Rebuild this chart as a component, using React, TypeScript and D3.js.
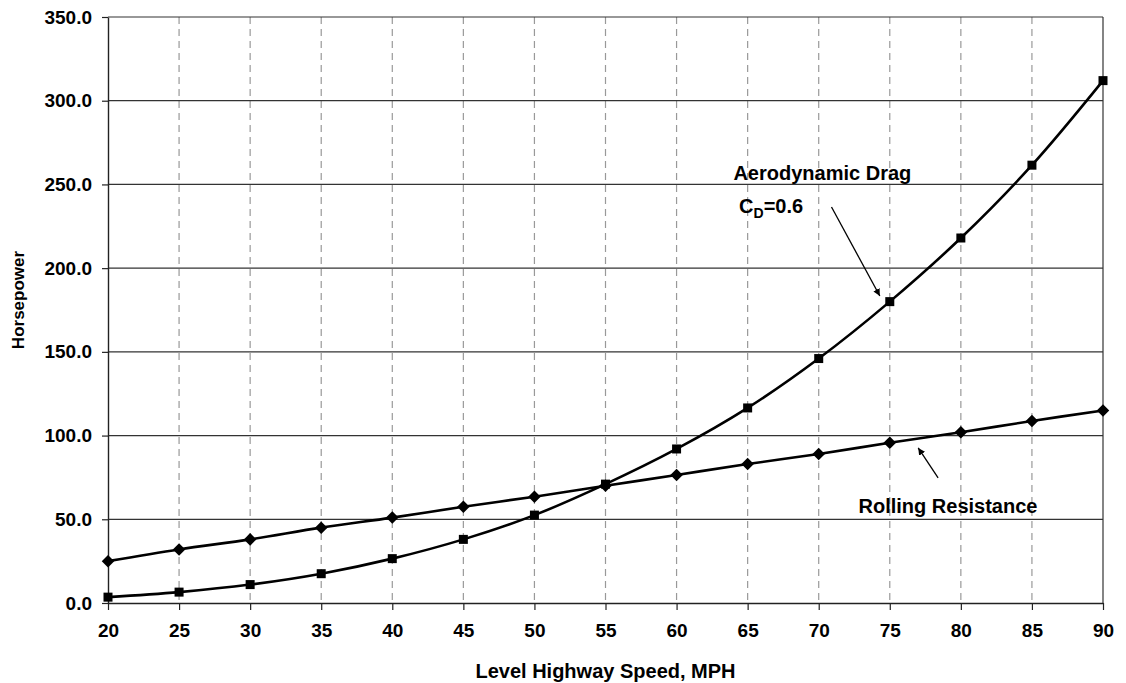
import { useEffect, useRef } from 'react';
import * as d3 from 'd3';

const speeds = [20, 25, 30, 35, 40, 45, 50, 55, 60, 65, 70, 75, 80, 85, 90];
const aeroDrag = [3.5, 6.5, 11, 17.5, 26.5, 38, 52.5, 71, 92, 116.5, 146, 180, 218, 261.5, 312];
const rolling = [25, 32, 38, 45, 51, 57.5, 63.5, 70, 76.5, 83, 89, 95.7, 102, 108.7, 115];
const yTicks = [0, 50, 100, 150, 200, 250, 300, 350];

const WIDTH = 1126;
const HEIGHT = 683;
const margin = { top: 17, right: 23, bottom: 80, left: 108 };
const FONT = 'Liberation Sans, Arial, sans-serif';

export default function App() {
  const svgRef = useRef<SVGSVGElement>(null);

  useEffect(() => {
    if (!svgRef.current) return;
    const svg = d3.select(svgRef.current);
    svg.selectAll('*').remove();

    const innerW = WIDTH - margin.left - margin.right;
    const innerH = HEIGHT - margin.top - margin.bottom;

    const x = d3.scaleLinear().domain([20, 90]).range([margin.left, margin.left + innerW]);
    const y = d3.scaleLinear().domain([0, 350]).range([margin.top + innerH, margin.top]);

    svg
      .append('defs')
      .append('marker')
      .attr('id', 'arrow')
      .attr('viewBox', '0 0 10 10')
      .attr('refX', 10)
      .attr('refY', 5)
      .attr('markerWidth', 7)
      .attr('markerHeight', 7)
      .attr('markerUnits', 'userSpaceOnUse')
      .attr('orient', 'auto')
      .append('path')
      .attr('d', 'M0,0 L10,5 L0,10 z')
      .attr('fill', '#000');

    // vertical dashed grid
    svg
      .append('g')
      .selectAll('line')
      .data(speeds.slice(1, -1))
      .join('line')
      .attr('x1', (d) => x(d))
      .attr('x2', (d) => x(d))
      .attr('y1', y(350))
      .attr('y2', y(0))
      .attr('stroke', '#999')
      .attr('stroke-width', 1.2)
      .attr('stroke-dasharray', '7,5');

    // horizontal grid
    svg
      .append('g')
      .selectAll('line')
      .data(yTicks.slice(1))
      .join('line')
      .attr('x1', x(20))
      .attr('x2', x(90))
      .attr('y1', (d) => y(d))
      .attr('y2', (d) => y(d))
      .attr('stroke', '#333')
      .attr('stroke-width', 1.2);

    // right border
    svg
      .append('line')
      .attr('x1', x(90))
      .attr('x2', x(90))
      .attr('y1', y(350))
      .attr('y2', y(0))
      .attr('stroke', '#333')
      .attr('stroke-width', 1.2);

    const yAxis = d3
      .axisLeft(y)
      .tickValues(yTicks)
      .tickFormat((d) => (d as number).toFixed(1))
      .tickSizeInner(6)
      .tickSizeOuter(0)
      .tickPadding(10);
    const xAxis = d3
      .axisBottom(x)
      .tickValues(speeds)
      .tickFormat(d3.format('d'))
      .tickSizeInner(7)
      .tickSizeOuter(0)
      .tickPadding(14);

    const gy = svg.append('g').attr('transform', `translate(${margin.left},0)`).call(yAxis);
    const gx = svg.append('g').attr('transform', `translate(0,${y(0)})`).call(xAxis);
    [gx, gy].forEach((g) => {
      g.select('.domain').attr('stroke', '#222').attr('stroke-width', 1.4);
      g.selectAll('.tick line').attr('stroke', '#222').attr('stroke-width', 1.2);
      g.selectAll('.tick text')
        .attr('font-family', FONT)
        .attr('font-weight', 'bold')
        .attr('font-size', 19)
        .attr('fill', '#000');
    });

    const line = d3
      .line<number>()
      .x((_, i) => x(speeds[i]))
      .y((d) => y(d))
      .curve(d3.curveCatmullRom.alpha(0.5));

    svg
      .append('path')
      .attr('d', line(rolling))
      .attr('fill', 'none')
      .attr('stroke', '#000')
      .attr('stroke-width', 2.6);
    svg
      .append('path')
      .attr('d', line(aeroDrag))
      .attr('fill', 'none')
      .attr('stroke', '#000')
      .attr('stroke-width', 2.6);

    // diamonds for rolling resistance
    const diamond = d3.symbol().type(d3.symbolDiamond2).size(100);
    svg
      .append('g')
      .selectAll('path')
      .data(rolling)
      .join('path')
      .attr('d', diamond)
      .attr('transform', (d, i) => `translate(${x(speeds[i])},${y(d)})`)
      .attr('fill', '#000');

    // squares for aerodynamic drag
    svg
      .append('g')
      .selectAll('rect')
      .data(aeroDrag)
      .join('rect')
      .attr('x', (_, i) => x(speeds[i]) - 4.5)
      .attr('y', (d) => y(d) - 4.5)
      .attr('width', 9)
      .attr('height', 9)
      .attr('fill', '#000');

    // annotations
    const label = (tx: number, ty: number, text: string) =>
      svg
        .append('text')
        .attr('x', x(tx))
        .attr('y', y(ty))
        .attr('font-family', FONT)
        .attr('font-weight', 'bold')
        .attr('font-size', 20)
        .text(text);

    label(64.0, 252.6, 'Aerodynamic Drag');
    const cd = label(64.4, 233, 'C');
    cd.append('tspan').attr('font-size', 14).attr('dy', 5).text('D');
    cd.append('tspan').attr('dy', -5).text('=0.6');
    label(72.8, 53.8, 'Rolling Resistance');

    const arrow = (x1: number, y1: number, x2: number, y2: number) =>
      svg
        .append('line')
        .attr('x1', x(x1))
        .attr('y1', y(y1))
        .attr('x2', x(x2))
        .attr('y2', y(y2))
        .attr('stroke', '#000')
        .attr('stroke-width', 1.3)
        .attr('marker-end', 'url(#arrow)');
    arrow(70.9, 236.5, 74.3, 183.4);
    arrow(78.4, 74.7, 77.0, 92.6);

    // axis titles
    svg
      .append('text')
      .attr('x', (x(20) + x(90)) / 2)
      .attr('y', 678)
      .attr('text-anchor', 'middle')
      .attr('font-family', FONT)
      .attr('font-weight', 'bold')
      .attr('font-size', 20)
      .text('Level Highway Speed, MPH');
    svg
      .append('text')
      .attr('transform', `translate(24,${(y(0) + y(350)) / 2 - 10}) rotate(-90)`)
      .attr('text-anchor', 'middle')
      .attr('font-family', FONT)
      .attr('font-weight', 'bold')
      .attr('font-size', 17)
      .text('Horsepower');
  }, []);

  return (
    <div style={{ position: 'absolute', left: 0, top: 0, background: '#fff' }}>
      <svg ref={svgRef} width={WIDTH} height={HEIGHT} />
    </div>
  );
}
